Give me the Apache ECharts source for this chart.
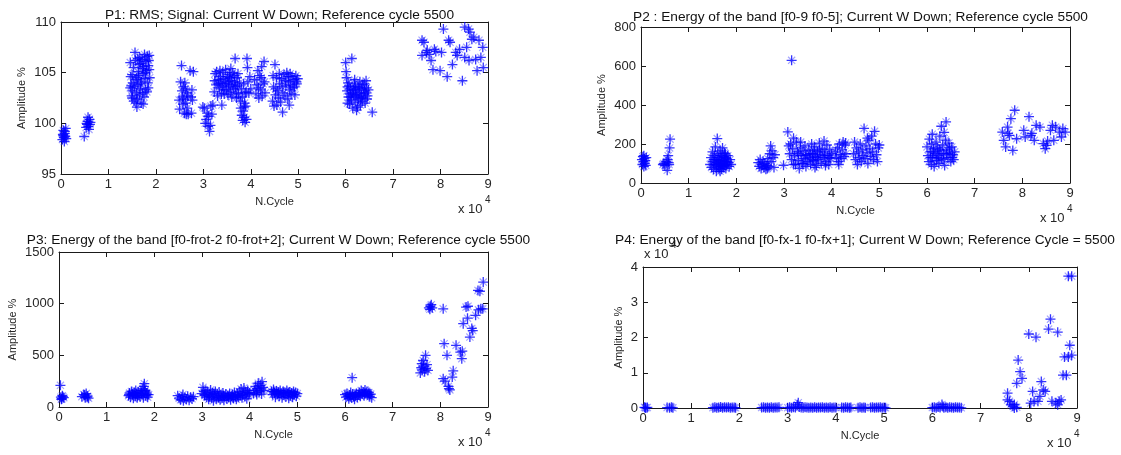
<!DOCTYPE html>
<html><head><meta charset="utf-8">
<script src="https://cdn.jsdelivr.net/npm/echarts@6/dist/echarts.min.js"></script>
<style>html,body{margin:0;padding:0;background:#fff}#c{width:1121px;height:455px}</style>
</head><body><div id="c"></div><script>
// ---------- DATA (x = cycle number, y = amplitude %) ----------
const p1Points = [
 [300,98.4],[400,98.9],[500,99.3],[600,98.6],[700,98.2],[800,99.0],[900,98.7],[1000,99.5],[1100,98.5],[500,98.8],[800,99.2],
 [4900,98.7],[5300,99.6],[5500,99.9],[5600,100.2],[5800,99.7],[6000,100.4],[6100,99.9],[5700,100.6],[6200,100.1],[5900,99.4],[5400,100.0],
 [14600,106.0],[14700,104.6],[14800,103.7],[14900,102.7],[15100,103.2],[15200,104.0],[15300,105.5],[15400,102.2],[15600,107.0],[15700,106.2],[15800,104.3],[15900,103.0],[16000,101.6],[16100,102.4],[16200,103.8],[16300,105.1],[16400,104.7],[16500,102.8],[16600,106.5],[16700,103.4],[16800,105.9],[16900,102.0],[17000,104.1],[17100,106.3],[17200,103.0],[17300,104.9],[17400,105.6],[17500,102.6],[17600,106.8],[17700,104.4],[17800,103.3],[17900,106.1],[18000,105.2],[18100,103.1],[18200,106.6],[18300,104.0],[18400,105.7],[18500,106.2],[18600,105.3],[18700,104.5],[16500,105.8],[17300,101.9],[15000,102.5],[16200,106.4],
 [14600,103.5],[15000,104.8],[15500,103.6],[16000,104.5],[16800,103.9],[17200,105.4],[17800,105.0],[18400,103.5],[18600,106.7],[15800,102.0],
 [24900,102.3],[25000,101.4],[25200,104.1],[25400,105.7],[25500,103.2],[25600,102.6],[25700,101.9],[25800,103.6],[25900,102.4],[26000,101.0],[26200,103.4],[26300,102.0],[26400,100.9],[26500,103.0],[26600,101.5],[26700,102.7],[26800,100.9],[27200,105.2],[27400,102.6],[27500,101.0],[27700,102.3],[27900,105.1],[27600,103.3],[26100,104.0],
 [29900,101.6],[30200,101.5],[30400,100.0],[30600,100.4],[30800,101.0],[31000,99.7],[31100,100.7],[31300,99.2],[31500,99.8],[31600,101.7],[31800,100.9],[32000,101.8],
 [32300,103.1],[32500,104.9],[32700,103.8],[32800,105.1],[33000,102.7],[33200,104.3],[33400,103.5],[33500,105.2],[33700,104.0],[33800,102.9],[34000,103.7],[34100,105.0],[34300,104.4],[34400,102.9],[34600,103.9],[34700,105.3],[34900,103.3],[35100,104.6],[35200,102.8],[35400,103.6],[35500,104.8],[35700,103.1],[35900,104.2],[36000,102.6],[36200,105.0],[36400,103.4],[36600,104.1],[36700,106.4],[36900,103.0],[37100,104.5],[37200,103.7],[37400,102.9],[37600,104.0],[37800,102.2],[37900,101.5],[38000,103.4],[38100,100.8],[38200,102.6],[38300,100.3],[38400,101.2],[38500,103.9],[38600,100.6],[38700,102.0],[38800,100.1],[38900,101.7],[39000,103.1],[39200,106.4],[39300,105.5],[39400,104.1],[39600,103.0],[39800,104.6],[40000,103.4],[33900,101.8],[35800,105.4],[37000,102.5],
 [32400,104.2],[33100,103.9],[33600,104.6],[34200,103.3],[34800,104.1],[35300,103.9],[35600,104.5],[36100,103.8],[36500,104.7],[36800,103.6],[37300,104.9],[38600,101.6],[38800,103.0],[39100,100.4],
 [40800,104.3],[41100,102.9],[41300,103.8],[41500,105.2],[41700,102.5],[41900,104.7],[42100,103.3],[42200,104.5],[42400,102.7],[42600,103.9],[42800,106.1],[42900,104.1],[43000,103.0],[41600,103.5],[42300,105.6],
 [44600,102.2],[44800,103.6],[44900,101.7],[45100,105.8],[45200,102.8],[45400,104.5],[45500,101.8],[45700,103.2],[45900,102.5],[46100,103.9],[46300,102.1],[46500,104.4],[46700,101.1],[46800,103.0],[47000,104.8],[47200,102.7],[47400,103.7],[47600,105.0],[47800,102.4],[48000,104.1],[48200,103.3],[48300,104.9],[48500,102.9],[48700,104.6],[48900,103.5],[49100,104.3],[49300,102.8],[49500,104.7],[49700,103.9],[49900,104.4],[48100,101.8],[46000,104.9],
 [44700,104.7],[45300,103.4],[46600,103.6],[47300,104.2],[48400,103.8],[49200,103.6],[49600,104.1],[47900,104.6],
 [60000,106.0],[60100,105.1],[60200,104.5],[60300,103.2],[60400,102.0],[60500,104.0],[60600,102.6],[60700,103.7],[60800,101.9],[60900,102.9],[61000,103.4],[61200,102.3],[61300,106.4],[61400,103.0],[61500,101.5],[61700,102.8],[61800,103.9],[62000,102.1],[62100,103.3],[62300,101.3],[62400,102.7],[62600,103.6],[62700,102.4],[62900,103.0],[63000,104.1],[63200,102.6],[63300,103.4],[63500,102.2],[63600,103.8],[63800,102.9],[64000,103.2],[64100,102.0],[64300,104.2],[64400,103.5],[64600,102.7],[64800,103.3],[65600,101.1],[63100,101.8],[61900,104.3],[62500,101.6],
 [60400,103.6],[61100,102.6],[61600,103.3],[62200,102.8],[62800,103.5],[63400,102.5],[63900,103.9],[64500,102.4],[64200,103.0],[62000,103.6],
 [76100,106.7],[76100,108.2],[76500,108.0],[77200,107.2],[77600,106.8],[78000,106.2],[78400,105.3],[78700,107.3],[80600,109.3],[80200,107.0],[79900,105.2],[81400,104.6],[81700,108.2],[82000,108.0],[82500,105.8],[83200,107.0],[84000,107.3],[84600,104.2],[85100,109.5],[85100,106.5],[85500,107.5],[85900,109.3],[86200,109.0],[86600,108.3],[87000,108.5],[87400,106.3],[87700,105.2],[88100,108.2],[88500,106.5],[88900,107.5],[89000,105.5],[77000,107.0],[79000,107.1],[83500,106.7],[86000,106.2]
];
const p2Points = [
 [200,120],[300,95],[400,135],[500,110],[600,85],[700,125],[800,100],[900,115],[1000,90],[1100,130],[600,140],
 [4600,95],[4800,100],[5000,90],[5300,110],[5500,65],[5600,120],[5700,140],[5800,105],[6000,180],[6100,225],[5900,95],
 [14500,95],[14700,130],[14800,80],[15000,160],[15100,110],[15200,70],[15400,140],[15500,95],[15600,185],[15700,120],[15800,60],[15900,105],[16000,228],[16100,150],[16200,85],[16300,130],[16400,75],[16500,115],[16600,165],[16700,95],[16800,140],[16900,70],[17000,120],[17100,180],[17200,100],[17300,80],[17400,135],[17500,110],[17600,90],[17700,150],[17800,75],[17900,125],[18000,95],[18200,140],[18300,105],[18500,85],[18700,120],[18900,95],[16600,60],[17500,155],
 [15300,120],[16300,100],[17000,85],[17800,130],[18100,110],[16800,115],[15900,90],
 [24600,105],[24800,85],[25000,120],[25200,75],[25400,95],[25600,110],[25800,80],[26000,100],[26200,70],[26400,90],[26600,125],[26800,85],[27000,150],[27200,190],[27300,110],[27500,165],[27700,130],[27900,80],[28100,145],[26500,75],
 [29900,91],[30800,262],[31600,629],[31000,190],[31200,150],[31400,200],[31600,120],[31800,175],[32000,230],[32200,140],[32400,95],[32600,210],[32800,160],[33000,115],[33200,75],[33400,180],[33600,140],[33800,100],[34000,165],[34200,125],[34400,190],[34600,85],[34800,145],[35000,110],[35200,170],[35400,130],[35600,95],[35800,200],[36000,150],[36200,115],[36400,185],[36600,135],[36800,90],[37000,160],[37200,120],[37400,205],[37600,145],[37800,100],[38000,175],[38200,130],[38400,215],[38600,160],[38800,110],[39000,195],[39200,140],[39400,95],[39600,170],[39800,125],[40000,150],[32000,95],[33500,210],[36500,80],[38700,90],
 [33000,150],[34500,140],[35500,150],[36300,165],[37500,170],[38500,140],[39500,130],[34000,100],[36000,120],[37000,130],
 [40800,160],[41000,130],[41200,180],[41400,110],[41600,200],[41800,145],[42000,125],[42200,170],[42400,210],[42600,135],[42800,195],[43000,150],[41500,95],[42900,205],
 [44600,150],[44800,210],[45000,120],[45200,180],[45400,95],[45600,160],[45800,130],[46000,200],[46200,110],[46400,170],[46600,140],[46800,280],[47000,125],[47200,190],[47400,155],[47600,100],[47800,220],[48000,175],[48200,135],[48400,240],[48600,160],[48800,120],[49000,265],[49200,200],[49400,145],[49600,110],[49800,180],[50000,195],[47500,230],
 [60000,185],[60200,140],[60400,110],[60500,225],[60700,160],[60900,95],[61000,200],[61200,130],[61400,175],[61500,85],[61700,150],[61900,210],[62000,115],[62200,180],[62400,140],[62500,100],[62700,240],[62900,165],[63000,291],[63100,125],[63300,195],[63500,150],[63700,90],[63900,220],[64000,313],[64200,170],[64400,130],[64600,205],[64800,155],[65000,110],[65200,185],[65400,145],[65600,120],[65800,160],[61100,250],[63600,260],
 [61300,160],[62100,130],[62600,170],[63400,120],[64100,150],[64700,180],[60800,130],[65300,130],
 [75800,261],[76100,219],[76500,185],[76900,287],[77300,244],[77600,330],[78000,167],[78400,373],[78800,227],[77000,255],[80300,270],[80600,236],[81400,340],[81800,244],[82500,219],[82900,296],[83700,287],[84400,202],[84800,176],[85100,193],[85900,270],[86300,296],[86600,219],[87000,287],[87800,261],[88500,279],[89000,261],[88200,236],[85300,215],[82000,255]
];
const p3Points = [
 [300,210],[400,95],[600,80],[800,100],[1000,90],[700,110],[500,75],
 [4800,100],[5200,120],[5500,90],[5700,130],[6000,105],[6200,85],[5400,115],[5900,95],
 [14600,110],[14800,135],[15000,95],[15200,150],[15400,120],[15600,85],[15800,140],[16000,105],[16200,130],[16400,90],[16600,145],[16800,115],[17000,100],[17200,160],[17400,125],[17600,175],[17800,200],[17900,226],[18000,150],[18200,110],[18400,135],[18600,95],[18800,120],[17700,90],[16100,160],
 [14700,120],[15500,130],[16500,110],[17300,135],[18100,160],[18500,120],
 [24900,110],[25200,85],[25500,70],[25800,100],[26100,60],[26400,90],[26700,75],[27000,105],[27300,65],[27600,95],[27900,80],[28200,100],[26000,120],
 [30000,130],[30200,190],[30400,150],[30600,110],[30800,160],[31000,95],[31200,140],[31400,75],[31600,120],[31800,165],[32000,90],[32200,135],[32400,60],[32600,110],[32800,150],[33000,80],[33200,125],[33400,100],[33600,145],[33800,70],[34000,115],[34200,90],[34400,135],[34600,65],[34800,105],[35000,125],[35200,80],[35400,110],[35600,95],[35800,130],[36000,70],[36200,105],[36400,120],[36600,85],[36800,140],[37000,100],[37200,75],[37400,125],[37600,95],[37800,150],[38000,110],[38200,175],[38400,90],[38600,130],[38800,185],[39000,105],[39200,145],[39400,80],[39600,160],[39800,120],[40000,135],
 [30500,120],[31500,100],[32500,130],[33500,90],[34500,110],[35500,100],[36500,95],[37500,110],[38500,120],[39500,140],
 [40800,130],[41000,160],[41200,200],[41400,140],[41600,180],[41800,230],[42000,150],[42200,210],[42400,175],[42600,245],[42800,190],[43000,160],[41500,120],[42500,125],
 [44600,150],[44800,120],[45000,170],[45200,135],[45400,95],[45600,155],[45800,125],[46000,145],[46200,105],[46400,160],[46600,130],[46800,90],[47000,150],[47200,115],[47400,140],[47600,100],[47800,160],[48000,125],[48200,85],[48400,145],[48600,110],[48800,135],[49000,95],[49200,150],[49400,120],[49600,140],[49800,105],[50000,130],
 [45100,150],[46100,130],[47100,135],[48100,140],[49100,120],
 [60000,120],[60200,95],[60400,130],[60600,105],[60800,80],[61000,115],[61200,140],[61400,90],[61500,284],[61600,125],[61800,100],[62000,75],[62200,110],[62400,130],[62600,95],[62800,120],[63000,140],[63200,105],[63400,160],[63600,125],[63800,145],[64000,110],[64200,165],[64400,130],[64600,150],[64800,115],[65000,140],[65200,100],[65400,125],[65600,90],
 [61100,100],[62100,120],[63100,115],[64100,130],[65100,120],
 [75800,330],[76000,380],[76100,420],[76200,360],[76400,450],[76500,395],[76700,340],[76900,500],[77000,370],[77200,410],[77400,355],[77600,960],[77800,945],[77900,975],[78100,990],[78300,960],[80600,950],[80600,274],[80800,613],[81000,250],[81400,500],[81700,200],[81800,178],[82000,165],[82700,350],[82500,290],[83300,597],[84200,532],[84500,468],[84800,806],[85400,967],[85800,975],[85700,860],[86200,677],[86600,760],[86800,740],[87400,887],[87900,1128],[88000,940],[88300,1120],[88500,950],[89000,1209],[88900,950],[84600,540]
];
const p4Points = [
 [300,200],[600,100],[900,150],[500,50],
 [5000,120],[5500,80],[5900,180],[6200,60],
 [14500,100],[14900,200],[15300,50],[15700,150],[16100,250],[16500,80],[16900,180],[17300,120],[17700,220],[18100,90],[18500,160],[18900,110],[19200,60],
 [24600,120],[25000,200],[25400,80],[25800,160],[26200,100],[26600,220],[27000,70],[27400,150],[27800,110],[28200,190],
 [30000,100],[30400,180],[30800,60],[31200,220],[31600,130],[32000,900],[32200,1500],[32400,300],[32800,150],[33200,80],[33600,200],[34000,120],[34400,60],[34800,170],[35200,100],[35600,220],[36000,80],[36400,150],[36800,110],[37200,190],[37600,70],[38000,140],[38400,100],[38800,210],[39200,90],[39600,160],[40000,120],
 [41200,150],[41600,80],[42000,200],[42400,110],[42800,60],[43100,170],
 [44600,100],[45000,180],[45400,60],[45800,140],[46100,90],
 [47200,130],[47600,200],[48000,70],[48400,160],[48800,110],[49200,220],[49600,90],[50000,150],[50300,60],
 [60000,120],[60400,200],[60800,80],[61200,260],[61600,150],[62000,1000],[62200,400],[62400,100],[62800,180],[63200,70],[63600,230],[64000,130],[64400,90],[64800,210],[65200,110],[65600,170],[66000,60],
 [75600,4200],[75600,2300],[76000,1900],[76300,900],[76700,500],[77000,0],[77000,1000],[77500,200],[77500,7000],[77800,13600],[78200,10300],[78600,8400],[80000,21000],[81500,20100],[80800,4700],[80400,1400],[81100,1900],[81900,1900],[82300,3300],[82600,7500],[83000,5100],[83400,4700],[84500,25200],[84100,22400],[86000,21500],[84800,1900],[85600,1400],[86300,1900],[86000,900],[86700,2300],[87100,9300],[87400,14500],[87800,9300],[88200,37400],[88900,37400],[88500,17800],[88900,15000],[88200,14500]
];
const panelTitles = [
 'P1: RMS; Signal: Current W Down; Reference cycle 5500',
 'P2 : Energy of the band [f0-9 f0-5]; Current W Down; Reference cycle 5500',
 'P3: Energy of the band [f0-frot-2 f0-frot+2]; Current W Down; Reference cycle 5500',
 'P4: Energy of the band [f0-fx-1 f0-fx+1]; Current W Down; Reference Cycle = 5500'
];
const xTickLabels = ['0','1','2','3','4','5','6','7','8','9'];
const yRanges = [[95,110,5],[0,800,200],[0,1500,500],[0,40000,10000]];
const xName = 'N.Cycle';
const yName = 'Amplitude %';

// ---------- LAYOUT ----------
const FONT = '"Liberation Sans", Arial, Helvetica, sans-serif';
const grids = [
 {left:61, top:22, width:427, height:152},
 {left:641, top:27, width:429, height:156},
 {left:59, top:252, width:429, height:155},
 {left:643, top:267, width:434, height:141}
];
const titleY = [3, 5, 228, 228];
const yNameGap = [34, 34, 41, 19];
const AX = '#1a1a1a', TXT = '#262626';
const PLUS = 'path://M0,4.35H10V5.65H0Z M4.35,0H5.65V10H4.35Z';
const CROSS = 'path://M1.2,2.0L2.0,1.2L8.8,8.0L8.0,8.8Z M8.8,2.0L8.0,1.2L1.2,8.0L2.0,8.8Z';
const allPoints = [p1Points, p2Points, p3Points, p4Points];

const xAxis = [], yAxis = [], series = [], title = [], graphic = [];
grids.forEach((g, i) => {
  const axLine = {show:true, onZero:false, lineStyle:{color:AX, width:1}};
  const tick = {show:true, inside:true, length:5, lineStyle:{color:AX}};
  const [ymin, ymax, yint] = yRanges[i];
  xAxis.push({gridIndex:i, type:'value', position:'bottom', min:0, max:90000, interval:10000,
    axisLine:axLine, axisTick:tick, splitLine:{show:false},
    axisLabel:{fontSize:13, color:TXT, fontFamily:FONT, margin:4, formatter:v => xTickLabels[Math.round(v/10000)]},
    name:xName, nameLocation:'middle', nameGap:22, nameTextStyle:{fontSize:11, color:TXT, fontFamily:FONT}});
  xAxis.push({gridIndex:i, type:'value', position:'top', min:0, max:90000, interval:10000,
    axisLine:axLine, axisTick:tick, splitLine:{show:false}, axisLabel:{show:false}});
  yAxis.push({gridIndex:i, type:'value', position:'left', min:ymin, max:ymax, interval:yint,
    axisLine:axLine, axisTick:tick, splitLine:{show:false},
    axisLabel:{fontSize:13, color:TXT, fontFamily:FONT, margin:5, formatter:v => i===3 ? String(v/10000) : String(v)},
    name:yName, nameLocation:'middle', nameGap:yNameGap[i], nameRotate:90, nameTextStyle:{fontSize:11, color:TXT, fontFamily:FONT}});
  yAxis.push({gridIndex:i, type:'value', position:'right', min:ymin, max:ymax, interval:yint,
    axisLine:axLine, axisTick:tick, splitLine:{show:false}, axisLabel:{show:false}});
  series.push({type:'scatter', xAxisIndex:2*i, yAxisIndex:2*i, data:allPoints[i], symbol:CROSS, symbolSize:8,
    itemStyle:{color:'rgba(50,50,255,0.55)'}, silent:true, clip:false});
  series.push({type:'scatter', xAxisIndex:2*i, yAxisIndex:2*i, data:allPoints[i], symbol:PLUS, symbolSize:10,
    itemStyle:{color:'#0000ff'}, silent:true, clip:false});
  title.push({text:panelTitles[i], left:g.left + g.width/2, top:titleY[i], textAlign:'center',
    textStyle:{fontSize:13.7, fontWeight:'normal', color:'#111', fontFamily:FONT}});
  const right = g.left + g.width, bottom = g.top + g.height;
  graphic.push({type:'text', left:right - 30, top:bottom + 29, style:{text:'x 10', font:'13px ' + FONT, fill:TXT}});
  graphic.push({type:'text', left:right - 3, top:bottom + 21, style:{text:'4', font:'10px ' + FONT, fill:TXT}});
});
// exponent for P4 y axis
graphic.push({type:'text', left:grids[3].left + 1, top:grids[3].top - 19, style:{text:'x 10', font:'13px ' + FONT, fill:TXT}});
graphic.push({type:'text', left:grids[3].left + 28, top:grids[3].top - 27, style:{text:'4', font:'10px ' + FONT, fill:TXT}});

const chart = echarts.init(document.getElementById('c'), null, {renderer:'canvas'});
chart.setOption({
  backgroundColor:'#fff', animation:false,
  grid: grids.map(g => Object.assign({containLabel:false}, g)),
  title, xAxis, yAxis, series, graphic
});
</script></body></html>
